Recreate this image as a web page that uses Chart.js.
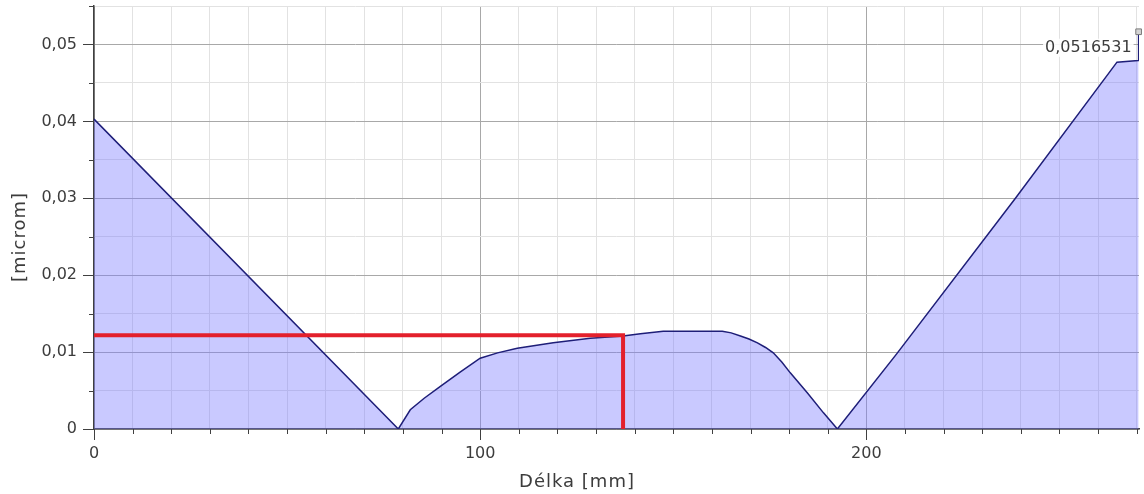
<!DOCTYPE html>
<html>
<head>
<meta charset="utf-8">
<script src="https://cdn.jsdelivr.net/npm/chart.js@4.4.1/dist/chart.umd.min.js"></script>
<style>
  html, body { margin: 0; padding: 0; background: #fff; }
  #wrap { width: 1144px; height: 494px; }
</style>
</head>
<body>
<div id="wrap"><canvas id="profile_chart"></canvas></div>
<script>
// profil - hodnoty
const delka = [0, 78.8, 81.9, 85.5, 89.6, 94.8, 100, 104.5, 109.6, 118.9, 128.5, 137, 141.5, 147.4, 162.7, 165, 167.4, 169.6, 171.8, 173.9, 175.9, 178.1, 180.3, 184.7, 188.9, 192.5, 207.9, 238.6, 264.9, 270.4, 270.5];
const odchylka = [0.0403, 0, 0.0025, 0.0040, 0.0055, 0.0074, 0.0092, 0.0099, 0.0105, 0.0112, 0.0118, 0.0121, 0.0124, 0.0127, 0.0127, 0.0125, 0.0121, 0.0117, 0.0112, 0.0106, 0.0099, 0.0087, 0.0073, 0.0047, 0.0021, 0, 0.0098, 0.0300, 0.0477, 0.0479, 0.0516531];

// cervena znacka
const znackaX = [0, 137, 137];
const znackaY = [0.0122, 0.0122, 0];

const maxX = 270.5;
const maxY = 0.0516531;
const maxLabel = '0,0516531';

const xTitle = 'Délka [mm]';
const yTitle = '[microm]';

const xMax = 270.6;
const yMax = 0.055;

const fontFamily = "'DejaVu Sans', sans-serif";
const textColor = '#3c3c3c';

function isMajorX(v) { return Math.abs(v % 100) < 1e-6; }
function isMajorY(v) { return Math.abs(v * 100 - Math.round(v * 100)) < 1e-6; }

function noPad(s) {
  s.paddingTop = 0;
  s.paddingBottom = 0;
  s.paddingLeft = 0;
  s.paddingRight = 0;
}

const ticksPlugin = {
  id: 'tickMarks',
  afterDraw(chart) {
    const ctx = chart.ctx;
    const xs = chart.scales.x, ys = chart.scales.y;
    const area = chart.chartArea;
    ctx.save();
    ctx.strokeStyle = '#404040';
    ctx.lineWidth = 1;
    xs.ticks.forEach(t => {
      const px = Math.round(xs.getPixelForValue(t.value)) + 0.5;
      const len = isMajorX(t.value) ? 11 : 5;
      ctx.beginPath();
      ctx.moveTo(px, area.bottom);
      ctx.lineTo(px, area.bottom + len);
      ctx.stroke();
    });
    ys.ticks.forEach(t => {
      const py = Math.round(ys.getPixelForValue(t.value)) + 0.5;
      const len = isMajorY(t.value) ? 11 : 5;
      ctx.beginPath();
      ctx.moveTo(area.left - len, py);
      ctx.lineTo(area.left, py);
      ctx.stroke();
    });

    // popisek maxima
    const px = xs.getPixelForValue(maxX);
    const py = ys.getPixelForValue(maxY);
    ctx.font = '16px ' + fontFamily;
    const w = ctx.measureText(maxLabel).width;
    const right = px - 7;
    const mid = py + 16;
    ctx.fillStyle = 'rgba(255,255,255,0.9)';
    ctx.fillRect(right - w - 2, mid - 9, w + 4, 18);
    ctx.fillStyle = textColor;
    ctx.textAlign = 'right';
    ctx.textBaseline = 'middle';
    ctx.fillText(maxLabel, right, mid);

    // nazvy os
    ctx.font = '18px ' + fontFamily;
    ctx.letterSpacing = '1px';
    ctx.textAlign = 'center';
    ctx.fillText(xTitle, 577, 482);
    ctx.translate(20, 237);
    ctx.rotate(-Math.PI / 2);
    ctx.fillText(yTitle, 0, 0);
    ctx.restore();
  }
};

new Chart(document.getElementById('profile_chart'), {
  type: 'scatter',
  data: {
    datasets: [{
      label: 'znacka',
      data: znackaX.map((x, i) => ({x: x, y: znackaY[i]})),
      showLine: true,
      borderColor: '#e3202c',
      borderWidth: 4,
      pointRadius: 0,
      fill: false,
      tension: 0
    },
    {
      label: 'max',
      data: [{x: maxX, y: maxY}],
      showLine: false,
      clip: false,
      pointStyle: 'rect',
      pointRadius: 4,
      borderColor: '#7a7a7a',
      backgroundColor: '#d4d4d4',
      borderWidth: 1
    },
    {
      label: 'profil',
      data: delka.map((x, i) => ({x: x, y: odchylka[i]})),
      showLine: true,
      borderColor: '#1e1e78',
      borderWidth: 1.5,
      backgroundColor: 'rgba(120,120,255,0.40)',
      fill: 'origin',
      pointRadius: 0,
      tension: 0
    }]
  },
  options: {
    responsive: true,
    maintainAspectRatio: false,
    animation: false,
    layout: { padding: { top: 6, right: 5, left: 0, bottom: 0 } },
    plugins: {
      legend: { display: false },
      tooltip: { enabled: false }
    },
    scales: {
      x: {
        type: 'linear',
        min: 0,
        max: xMax,
        afterFit: s => { s.height = 65; noPad(s); },
        border: { color: '#404040', width: 1.5 },
        grid: {
          drawTicks: false,
          color: c => isMajorX(c.tick.value) ? '#a8a8a8' : '#e2e2e2',
          lineWidth: 1
        },
        ticks: {
          stepSize: 10,
          includeBounds: false,
          autoSkip: false,
          maxRotation: 0,
          padding: 15,
          color: textColor,
          font: { family: fontFamily, size: 16 },
          callback: v => isMajorX(v) ? String(v) : ''
        }
      },
      y: {
        min: 0,
        max: yMax,
        afterFit: s => { s.width = 94; noPad(s); },
        border: { color: '#404040', width: 1.5 },
        grid: {
          drawTicks: false,
          color: c => isMajorY(c.tick.value) ? '#a8a8a8' : '#e2e2e2',
          lineWidth: 1
        },
        ticks: {
          stepSize: 0.005,
          includeBounds: false,
          autoSkip: false,
          padding: 17,
          color: textColor,
          font: { family: fontFamily, size: 16 },
          callback: v => {
            if (!isMajorY(v)) return '';
            if (Math.abs(v) < 1e-9) return '0';
            return v.toFixed(2).replace('.', ',');
          }
        }
      }
    }
  },
  plugins: [ticksPlugin]
});
</script>
</body>
</html>
